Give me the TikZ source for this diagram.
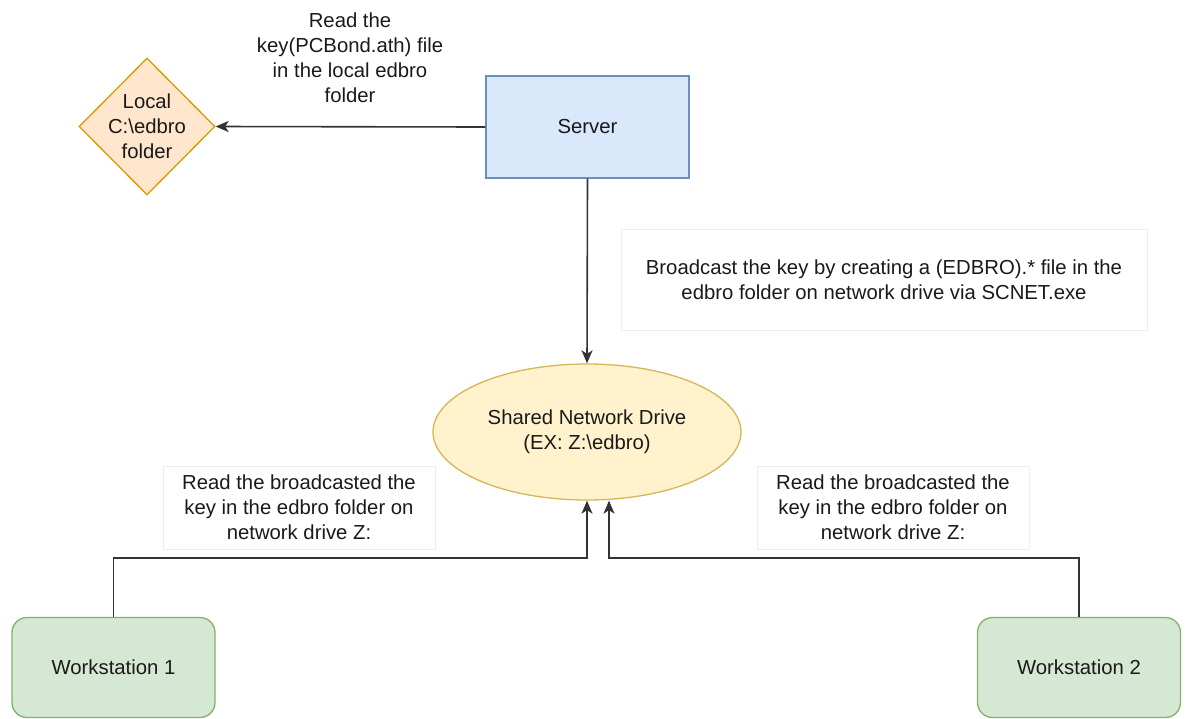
\documentclass[tikz,border=0pt]{standalone}
\usepackage{fontspec}
\setmainfont{Liberation Sans}
\usetikzlibrary{shapes.geometric,arrows.meta}

\definecolor{orfill}{HTML}{FFE6CC}\definecolor{ordraw}{HTML}{D79B00}
\definecolor{blfill}{HTML}{DAE8FC}\definecolor{bldraw}{HTML}{6C8EBF}
\definecolor{yefill}{HTML}{FFF2CC}\definecolor{yedraw}{HTML}{D6B656}
\definecolor{grfill}{HTML}{D5E8D4}\definecolor{grdraw}{HTML}{82B366}
\definecolor{notedraw}{HTML}{EEEEEE}
\definecolor{txt}{HTML}{1A1A1A}

\begin{document}
\begin{tikzpicture}[x=1pt,y=-1pt,
  every node/.style={font=\fontsize{20.3}{25}\selectfont, text=txt, align=center, inner sep=0pt},
  shapebase/.style={line width=1.3pt},
  localfolder/.style={shapebase, diamond, inner sep=-5pt, fill=orfill, draw=ordraw, minimum width=136pt, minimum height=137pt},
  serverbox/.style={shapebase, rectangle, fill=blfill, draw=bldraw, minimum width=203pt, minimum height=102pt},
  drive/.style={shapebase, ellipse, fill=yefill, draw=yedraw, minimum width=308pt, minimum height=136pt},
  station/.style={shapebase, rectangle, rounded corners=15pt, fill=grfill, draw=grdraw, minimum width=203pt, minimum height=100pt},
  note/.style={rectangle, fill=white, draw=notedraw, line width=1pt},
  conn/.style={line width=1.6pt, draw=black!80, -{Stealth[length=13pt,width=11pt,inset=3.5pt]}}
]
\useasboundingbox (0,0) rectangle (1188,718);

% shapes
\node[localfolder] (local) at (147,126.5) {Local\\C:\textbackslash edbro\\folder};
\node[serverbox] (server) at (587.5,127) {Server};
\node[drive] (drive) at (587,432) {Shared Network Drive\\(EX: Z:\textbackslash edbro)};
\node[station] (ws1) at (113.5,667.5) {Workstation 1};
\node[station] (ws2) at (1079,667.5) {Workstation 2};

% annotation boxes
\node[note, minimum width=526pt, minimum height=101pt] (bcast) at (884,279.5)
  {Broadcast the key by creating a (EDBRO).* file in the\\edbro folder on network drive via SCNET.exe};
\node[note, minimum width=272pt, minimum height=83pt] (readl) at (299,507.5)
  {Read the broadcasted the\\key in the edbro folder on\\network drive Z:};
\node[note, minimum width=272pt, minimum height=83pt] (readr) at (893,507.5)
  {Read the broadcasted the\\key in the edbro folder on\\network drive Z:};

% label on the server-to-local connector
\node (readkey) at (350,58) {Read the\\key(PCBond.ath) file\\in the local edbro\\folder};

% connectors
\coordinate (j1) at (587,558);
\coordinate (j2) at (609,558);
\draw[conn] (server.west) -- (local.east);
\draw[conn] (server.south) -- (drive.north);
\draw[conn] (ws1.north) |- (j1) -- (drive.south);
\draw[conn] (ws2.north) |- (j2) -- (j2 |- drive.south);
\end{tikzpicture}
\end{document}
